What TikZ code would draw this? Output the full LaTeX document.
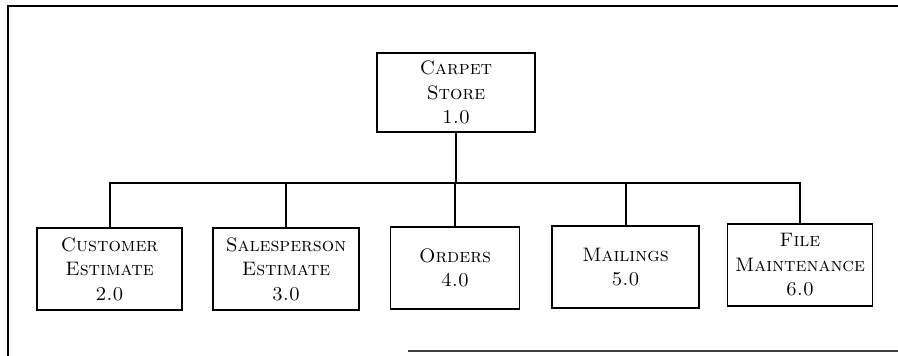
\documentclass[tikz,border=0pt]{standalone}
\usetikzlibrary{positioning}

\tikzset{
  unit/.style={draw, line width=1.4pt, align=center, inner sep=2pt,
    minimum height=82pt, font=\fontsize{19.5}{24.5}\selectfont\scshape},
  link/.style={line width=2pt}
}

\begin{document}
\begin{tikzpicture}[x=1pt, y=-1pt]
  %--- parameters to tweak layout easily
  \def\W{898}
  \def\H{356}
  \def\ybar{183}           % level of the horizontal bar
  \def\ykids{268}          % centre line of the lower boxes

  \useasboundingbox (0,0) rectangle (\W,\H);

  %--- outer frame (open on the right)
  \draw[line width=1.3pt] (\W,6) -- (8,6) -- (8,\H);
  \draw[line width=1.1pt, black!75] (408,351) -- (\W,351);

  %--- top box
  \node[unit, minimum width=158pt, minimum height=79pt] (store) at (456,92.5) {Carpet\\Store\\1.0};

  %--- lower boxes
  \node[unit, minimum width=145pt] (cust)  at (109.5,\ykids+1) {Customer\\Estimate\\2.0};
  \node[unit, minimum width=146pt] (sales) at (286,\ykids+1)   {Salesperson\\Estimate\\3.0};
  \node[unit, minimum width=129pt] (ord)   at (455,\ykids)     {Orders\\4.0};
  \node[unit, minimum width=147pt] (mail)  at (625.5,\ykids-1) {Mailings\\5.0};
  \node[unit, minimum width=145pt] (file)  at (800,\ykids-3)   {File\\Maintenance\\6.0};

  %--- connectors
  \coordinate (bar) at (store.south |- 0,\ybar);
  \draw[link] (store.south) -- (bar);
  \foreach \kid in {cust,sales,ord,mail,file}
    \draw[link] (bar) -| (\kid.north);

\end{tikzpicture}
\end{document}
